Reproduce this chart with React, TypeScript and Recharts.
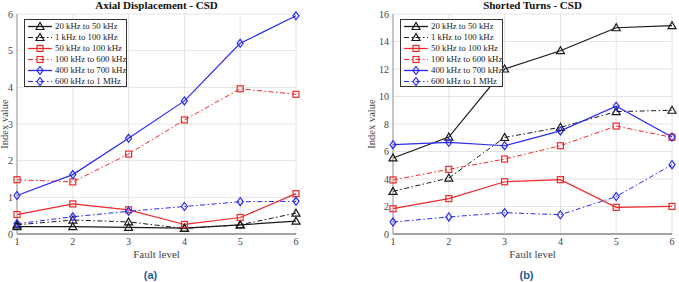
import { LineChart, Line, XAxis, YAxis, CartesianGrid } from 'recharts'

const faultLevels = [1, 2, 3, 4, 5, 6]

const bandLabels = [
  '20 kHz to 50 kHz',
  '1 kHz to 100 kHz',
  '50 kHz to 100 kHz',
  '100 kHz to 600 kHz',
  '400 kHz to 700 kHz',
  '600 kHz to 1 MHz',
]

// Axial displacement, one array per frequency band
const axial20kTo50k = [0.2, 0.2, 0.18, 0.16, 0.25, 0.35]
const axial1kTo100k = [0.25, 0.38, 0.33, 0.15, 0.25, 0.57]
const axial50kTo100k = [0.53, 0.82, 0.66, 0.26, 0.45, 1.1]
const axial100kTo600k = [1.48, 1.42, 2.18, 3.11, 3.96, 3.81]
const axial400kTo700k = [1.05, 1.62, 2.61, 3.63, 5.2, 5.95]
const axial600kTo1M = [0.28, 0.47, 0.62, 0.75, 0.88, 0.89]

// Shorted turns
const shorted20kTo50k = [5.53, 7.05, 12.0, 13.33, 15.0, 15.15]
const shorted1kTo100k = [3.1, 4.07, 7.02, 7.76, 8.9, 9.0]
const shorted50kTo100k = [1.84, 2.57, 3.8, 3.95, 1.94, 2.01]
const shorted100kTo600k = [3.93, 4.7, 5.45, 6.42, 7.85, 7.03]
const shorted400kTo700k = [6.5, 6.67, 6.42, 7.5, 9.3, 7.05]
const shorted600kTo1M = [0.87, 1.24, 1.55, 1.4, 2.72, 5.04]

const axialTicks = [0, 1, 2, 3, 4, 5, 6]
const shortedTicks = [0, 2, 4, 6, 8, 10, 12, 14, 16]

type Shape = 'triangle' | 'square' | 'diamond'

const BLACK = '#1a1a1a'
const RED = '#f02828'
const BLUE = '#2a2af0'
const DASH_DOT = '5 2.5 1.5 2.5'
const SERIF = '"Liberation Serif", "Times New Roman", serif'

const seriesLook: { color: string; shape: Shape; dashed: boolean }[] = [
  { color: BLACK, shape: 'triangle', dashed: false },
  { color: BLACK, shape: 'triangle', dashed: true },
  { color: RED, shape: 'square', dashed: false },
  { color: RED, shape: 'square', dashed: true },
  { color: BLUE, shape: 'diamond', dashed: false },
  { color: BLUE, shape: 'diamond', dashed: true },
]

function buildRows(series: number[][]) {
  return faultLevels.map((level, i) => {
    const row: Record<string, number> = { level }
    series.forEach((values, s) => {
      row[`s${s}`] = values[i]
    })
    return row
  })
}

function Marker({ cx, cy, shape, color }: { cx?: number; cy?: number; shape: Shape; color: string }) {
  if (cx == null || cy == null) return null
  if (shape === 'triangle') {
    return (
      <polygon
        points={`${cx},${cy - 4} ${cx - 4},${cy + 3} ${cx + 4},${cy + 3}`}
        fill="none"
        stroke={color}
        strokeWidth={1.2}
      />
    )
  }
  if (shape === 'square') {
    return <rect x={cx - 3} y={cy - 3} width={6} height={6} fill="none" stroke={color} strokeWidth={1.2} />
  }
  return (
    <polygon
      points={`${cx},${cy - 4} ${cx + 3},${cy} ${cx},${cy + 4} ${cx - 3},${cy}`}
      fill="none"
      stroke={color}
      strokeWidth={1.2}
    />
  )
}

function LegendBox({ left, top }: { left: number; top: number }) {
  return (
    <div
      style={{
        position: 'absolute',
        left,
        top,
        width: 101,
        height: 66,
        background: '#fff',
        border: '1px solid #333',
        fontFamily: SERIF,
        fontSize: 8.8,
        color: '#222',
      }}
    >
      {bandLabels.map((label, i) => {
        const look = seriesLook[i]
        return (
          <div key={label} style={{ position: 'absolute', left: 3, top: 1 + i * 11, height: 11, display: 'flex', alignItems: 'center' }}>
            <svg width={25} height={11} style={{ display: 'block' }}>
              <line
                x1={0}
                y1={5.5}
                x2={24}
                y2={5.5}
                stroke={look.color}
                strokeWidth={look.dashed ? 1 : 1.3}
                strokeDasharray={look.dashed ? DASH_DOT : undefined}
              />
              <Marker cx={12} cy={5.5} shape={look.shape} color={look.color} />
            </svg>
            <span style={{ marginLeft: 2, whiteSpace: 'nowrap', lineHeight: '11px' }}>{label}</span>
          </div>
        )
      })}
    </div>
  )
}

interface PanelProps {
  left: number
  width: number
  yAxisWidth: number
  marginRight: number
  yLabelX: number
  title: string
  caption: string
  series: number[][]
  ticks: number[]
}

function Panel({ left, width, yAxisWidth, marginRight, yLabelX, title, caption, series, ticks }: PanelProps) {
  const rows = buildRows(series)
  const plotLeft = yAxisWidth
  const plotRight = width - marginRight
  const center = (plotLeft + plotRight) / 2
  const yMax = ticks[ticks.length - 1]
  return (
    <div style={{ position: 'absolute', left, top: 0, width, height: 282 }}>
      <div
        style={{
          position: 'absolute',
          left: center - 100,
          width: 200,
          top: -1,
          textAlign: 'center',
          fontFamily: SERIF,
          fontWeight: 'bold',
          fontSize: 11,
          color: '#111',
        }}
      >
        {title}
      </div>
      <LineChart width={width} height={282} data={rows} margin={{ top: 14, right: marginRight, bottom: 28, left: 0 }}>
        <CartesianGrid stroke="#e4e4e4" strokeWidth={1} />
        <XAxis
          dataKey="level"
          type="number"
          domain={[1, 6]}
          ticks={faultLevels}
          height={20}
          tickSize={2}
          tickMargin={2}
          tickLine={false}
          axisLine={{ stroke: '#555' }}
          tick={{ fill: '#444', fontSize: 10, fontFamily: SERIF }}
        />
        <YAxis
          type="number"
          domain={[0, yMax]}
          ticks={ticks}
          width={yAxisWidth}
          tickSize={2}
          tickMargin={2}
          tickLine={false}
          axisLine={{ stroke: '#9a9a9a' }}
          tick={{ fill: '#444', fontSize: 10, fontFamily: SERIF }}
        />
        {series.map((_, s) => {
          const look = seriesLook[s]
          return (
            <Line
              key={s}
              dataKey={`s${s}`}
              type="linear"
              stroke={look.color}
              strokeWidth={look.dashed ? 1 : 1.2}
              strokeDasharray={look.dashed ? DASH_DOT : undefined}
              isAnimationActive={false}
              dot={(p: any) => <Marker key={p.index} cx={p.cx} cy={p.cy} shape={look.shape} color={look.color} />}
              activeDot={false}
            />
          )
        })}
      </LineChart>
      <div
        style={{
          position: 'absolute',
          left: yLabelX - 50,
          top: 124 - 7,
          width: 100,
          height: 14,
          textAlign: 'center',
          transform: 'rotate(-90deg)',
          fontFamily: SERIF,
          fontSize: 10.5,
          color: '#444',
          lineHeight: '14px',
        }}
      >
        Index value
      </div>
      <div
        style={{
          position: 'absolute',
          left: center - 60,
          width: 120,
          top: 248,
          textAlign: 'center',
          fontFamily: SERIF,
          fontSize: 11,
          color: '#444',
        }}
      >
        Fault level
      </div>
      <div
        style={{
          position: 'absolute',
          left: center - 6 - 40,
          width: 80,
          top: 269,
          textAlign: 'center',
          fontFamily: '"Liberation Sans", Arial, sans-serif',
          fontWeight: 'bold',
          fontSize: 11,
          color: '#1f5c9a',
        }}
      >
        {caption}
      </div>
      <LegendBox left={plotLeft + 7} top={19} />
    </div>
  )
}

export default function App() {
  return (
    <div style={{ position: 'absolute', left: 0, top: 0, width: 679, height: 282, background: '#fff', overflow: 'hidden' }}>
      <Panel
        left={0}
        width={340}
        yAxisWidth={17}
        marginRight={44}
        yLabelX={5}
        title="Axial Displacement - CSD"
        caption="(a)"
        series={[axial20kTo50k, axial1kTo100k, axial50kTo100k, axial100kTo600k, axial400kTo700k, axial600kTo1M]}
        ticks={axialTicks}
      />
      <Panel
        left={340}
        width={339}
        yAxisWidth={53}
        marginRight={7}
        yLabelX={32}
        title="Shorted Turns - CSD"
        caption="(b)"
        series={[shorted20kTo50k, shorted1kTo100k, shorted50kTo100k, shorted100kTo600k, shorted400kTo700k, shorted600kTo1M]}
        ticks={shortedTicks}
      />
    </div>
  )
}
